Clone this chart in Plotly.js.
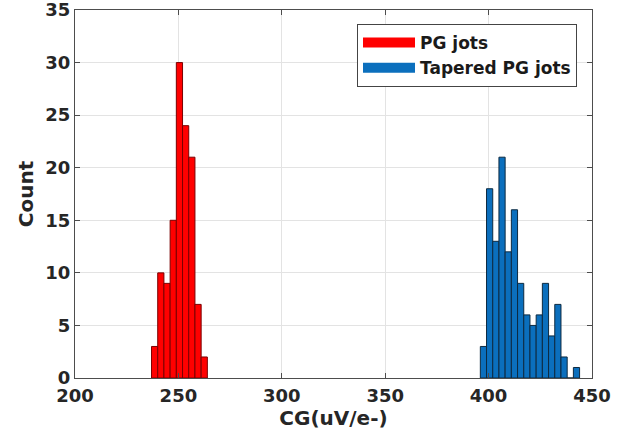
<!DOCTYPE html>
<html>
<head>
<meta charset="utf-8">
<script src="https://cdn.plot.ly/plotly-3.0.1.min.js"></script>
<style>html,body{margin:0;padding:0;background:#fff;}#chart{width:634px;height:435px;}</style>
</head>
<body>
<div id="chart"></div>
<script>
// Histogram data (bin width 3)
const binWidth = 3;
const pgStart = 237;
const pgCounts = [3, 10, 9, 15, 30, 24, 21, 7, 2];
const taperedStart = 396;
const taperedCounts = [3, 18, 13, 21, 12, 16, 9, 6, 5, 6, 9, 4, 7, 2, 0, 1];
const seriesNames = ['PG jots', 'Tapered PG jots'];
const seriesColors = ['#ff0000', '#0b6fbd'];
const edgeColors = ['#7a0000', '#0d2a40'];
const xTicks = [200, 250, 300, 350, 400, 450];
const yTicks = [0, 5, 10, 15, 20, 25, 30, 35];

function centers(start, counts) {
  return counts.map((_, i) => start + binWidth * (i + 0.5));
}

const tickFont = {family: 'DejaVu Sans', size: 18, color: '#262626', weight: 'bold'};
const titleFont = {family: 'DejaVu Sans', size: 20, color: '#262626', weight: 'bold'};

const traces = [
  {
    type: 'bar', name: seriesNames[0], showlegend: false,
    x: centers(pgStart, pgCounts), y: pgCounts, width: binWidth,
    marker: {color: seriesColors[0], line: {color: edgeColors[0], width: 1}}
  },
  {
    type: 'bar', name: seriesNames[1], showlegend: false,
    x: centers(taperedStart, taperedCounts), y: taperedCounts, width: binWidth,
    marker: {color: seriesColors[1], line: {color: edgeColors[1], width: 1}}
  },
  // legend entries (wide swatches as in the reference)
  {
    type: 'scatter', mode: 'lines', name: seriesNames[0], x: [null], y: [null],
    line: {color: seriesColors[0], width: 15}
  },
  {
    type: 'scatter', mode: 'lines', name: seriesNames[1], x: [null], y: [null],
    line: {color: seriesColors[1], width: 15}
  }
];

const layout = {
  width: 634, height: 435,
  margin: {l: 75, r: 42, t: 10, b: 57},
  paper_bgcolor: '#ffffff', plot_bgcolor: '#ffffff',
  font: tickFont,
  barmode: 'overlay',
  showlegend: true,
  legend: {
    x: 0.971, y: 0.962, xanchor: 'right', yanchor: 'top',
    bgcolor: '#ffffff', bordercolor: '#444444', borderwidth: 1,
    font: {family: 'DejaVu Sans', size: 17, color: '#1a1a1a', weight: 'bold'},
    itemwidth: 52, tracegroupgap: 0
  },
  xaxis: {
    range: [200, 450], tickvals: xTicks, ticktext: xTicks.map(String),
    showgrid: true, gridcolor: '#e3e3e3', gridwidth: 1,
    showline: true, linecolor: '#4d4d4d', linewidth: 1, mirror: 'ticks',
    ticks: 'inside', ticklen: 5, tickcolor: '#4d4d4d',
    zeroline: false, ticklabelstandoff: 1, ticklabeloverflow: 'allow',
    tickfont: tickFont,
    title: {text: 'CG(uV/e-)', standoff: 0, font: titleFont}
  },
  yaxis: {
    range: [0, 35], tickvals: yTicks, ticktext: yTicks.map(String),
    showgrid: true, gridcolor: '#e3e3e3', gridwidth: 1,
    showline: true, linecolor: '#4d4d4d', linewidth: 1, mirror: 'ticks',
    ticks: 'inside', ticklen: 5, tickcolor: '#4d4d4d',
    zeroline: false, ticklabeloverflow: 'allow',
    tickfont: tickFont,
    title: {text: 'Count', standoff: 6, font: titleFont}
  }
};

Plotly.newPlot('chart', traces, layout, {displayModeBar: false, staticPlot: true});
</script>
</body>
</html>
